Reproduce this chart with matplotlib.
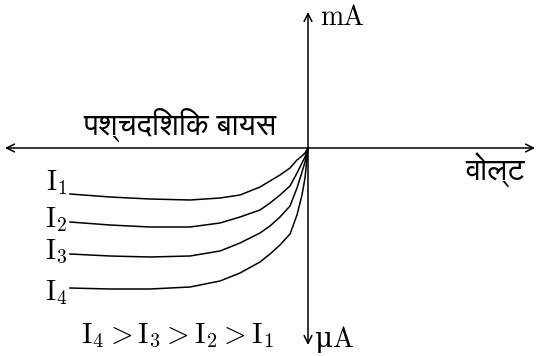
import os
import matplotlib
matplotlib.use('Agg')
import matplotlib.pyplot as plt
from matplotlib import font_manager

# Data (reverse bias region, arbitrary units)
volt = [-238, -198, -158, -118, -88, -68, -48, -38, -28, -18, -11, -6, -3, 0]
i1 = [-46, -49, -51, -52, -50, -47, -39, -33, -27, -20, -12, -8, -5, 0]
i2 = [-74, -77, -79, -79, -75, -69, -62, -55, -47, -38, -25, -15, -9, 0]
i3 = [-106, -108, -109, -108, -103, -95, -85, -78, -69, -58, -40, -24, -14, 0]
i4 = [-140, -141, -141, -139, -133, -125, -114, -106, -97, -86, -67, -47, -30, 0]
curves = [i1, i2, i3, i4]
curve_labels = [r'$\mathrm{I}_1$', r'$\mathrm{I}_2$', r'$\mathrm{I}_3$', r'$\mathrm{I}_4$']
label_tops = [-20, -57, -90, -130]

title_hi = 'पश्चदिशिक बायस'
xlabel_hi = 'वोल्ट'
order_text = r'$\mathrm{I}_4 > \mathrm{I}_3 > \mathrm{I}_2 > \mathrm{I}_1$'

plt.rcParams['mathtext.fontset'] = 'cm'

hindi_path = '/usr/share/fonts/truetype/freefont/FreeSans.ttf'
if os.path.exists(hindi_path):
    hindi = font_manager.FontProperties(fname=hindi_path)
else:
    hindi = font_manager.FontProperties(family='DejaVu Sans')
serif = ['cmr10', 'DejaVu Serif']

fig = plt.figure(figsize=(5.38, 3.56), dpi=100)
ax = fig.add_axes([0, 0, 1, 1])
ax.set_xlim(-308, 230)
ax.set_ylim(-208, 148)
ax.axis('off')

arrow = dict(arrowstyle='->', color='black', lw=1.1, mutation_scale=14,
             shrinkA=0, shrinkB=0)
# horizontal axis (both directions)
ax.annotate('', xy=(227, 0), xytext=(0, 0), arrowprops=arrow)
ax.annotate('', xy=(-303, 0), xytext=(0, 0), arrowprops=arrow)
# vertical axis
ax.annotate('', xy=(0, 136), xytext=(0, 0), arrowprops=arrow)
ax.annotate('', xy=(0, -197), xytext=(0, 0), arrowprops=arrow)

for cur, lab, top in zip(curves, curve_labels, label_tops):
    ax.plot(volt, cur, color='black', lw=1.1)
    ax.text(volt[0] - 3, top, lab, fontsize=20, ha='right', va='top')

ax.text(12, 123, 'mA', fontsize=20, family=serif, ha='left', va='baseline')
ax.text(7, -199, 'μA', fontsize=20, family=serif, ha='left', va='baseline')
ax.text(-128, 23, title_hi, fontproperties=hindi, fontsize=22,
        ha='center', va='center')
ax.text(187, -22, xlabel_hi, fontproperties=hindi, fontsize=22,
        ha='center', va='center')
ax.text(-131, -174, order_text, fontsize=21, ha='center', va='top')

plt.savefig('out.png', dpi=100)
